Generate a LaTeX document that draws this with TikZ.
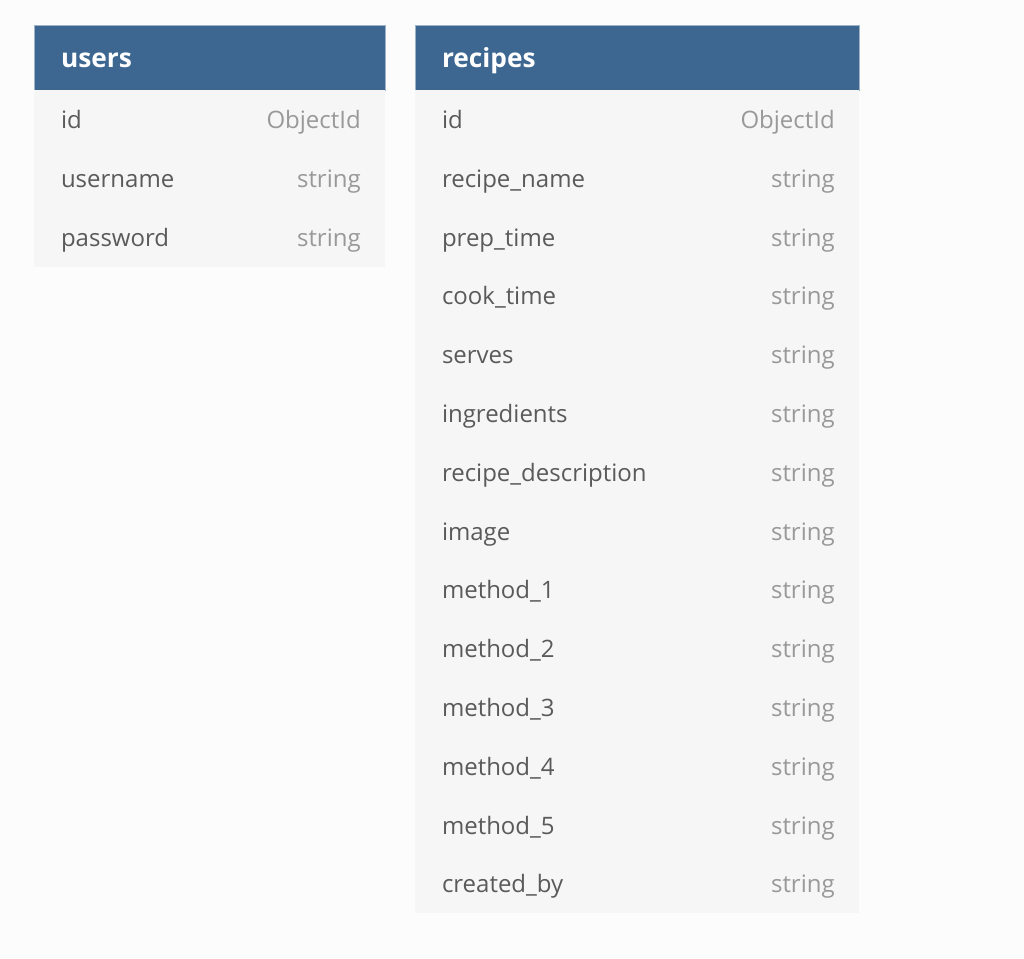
\documentclass[tikz,border=0pt]{standalone}
\usepackage{fontspec}
\setmainfont{Open Sans}
\usetikzlibrary{positioning}

\definecolor{hdrblue}{HTML}{3D6790}
\definecolor{hdrline}{HTML}{9DB3C8}
\definecolor{rowfill}{HTML}{F6F6F6}
\definecolor{pagebg}{HTML}{FCFCFC}
\definecolor{fieldtxt}{HTML}{5A5A5A}
\definecolor{typetxt}{HTML}{999999}

\begin{document}
\begin{tikzpicture}[
  x=0.75pt,
  y=-0.75pt,
  node distance=0pt,
  header/.style={
    draw=hdrline,
    line width=0.6pt,
    fill=hdrblue,
    text=white,
    font=\fontsize{19.7}{22}\selectfont\bfseries,
    anchor=north west,
    align=left,
    inner xsep=20.25pt,
    outer sep=0pt,
    text height=18.5pt,
    text depth=4pt,
    minimum height=48.5pt
  },
  field/.style={
    fill=rowfill,
    text=fieldtxt,
    font=\fontsize{18}{22}\selectfont,
    align=left,
    inner xsep=20.25pt,
    outer sep=0pt,
    text height=17.5pt,
    text depth=4pt,
    minimum height=44.1pt
  },
  ufield/.style={field, text width=222.75pt},
  rfield/.style={field, text width=292.5pt},
  ftype/.style={
    text=typetxt,
    font=\fontsize{18}{22}\selectfont,
    inner sep=0pt,
    text height=17.5pt,
    text depth=4pt
  }
]

\fill[pagebg] (0,0) rectangle (1024,958);

% users
\node[header, text width=222.75pt] (users) at (34,25.5) {users};
\node[ufield, below=of users] (u1) {id};
\node[ufield, below=of u1] (u2) {username};
\node[ufield, below=of u2] (u3) {password};
\node[ftype, left=18pt of u1.east] (u1t) {ObjectId};
\node[ftype, left=18pt of u2.east] (u2t) {string};
\node[ftype, left=18pt of u3.east] (u3t) {string};

% recipes
\node[header, text width=292.5pt] (recipes) at (415,25.5) {recipes};
\node[rfield, below=of recipes] (r1) {id};
\node[rfield, below=of r1] (r2) {recipe\_name};
\node[rfield, below=of r2] (r3) {prep\_time};
\node[rfield, below=of r3] (r4) {cook\_time};
\node[rfield, below=of r4] (r5) {serves};
\node[rfield, below=of r5] (r6) {ingredients};
\node[rfield, below=of r6] (r7) {recipe\_description};
\node[rfield, below=of r7] (r8) {image};
\node[rfield, below=of r8] (r9) {method\_1};
\node[rfield, below=of r9] (r10) {method\_2};
\node[rfield, below=of r10] (r11) {method\_3};
\node[rfield, below=of r11] (r12) {method\_4};
\node[rfield, below=of r12] (r13) {method\_5};
\node[rfield, below=of r13] (r14) {created\_by};
\node[ftype, left=18pt of r1.east] (r1t) {ObjectId};
\node[ftype, left=18pt of r2.east] (r2t) {string};
\node[ftype, left=18pt of r3.east] (r3t) {string};
\node[ftype, left=18pt of r4.east] (r4t) {string};
\node[ftype, left=18pt of r5.east] (r5t) {string};
\node[ftype, left=18pt of r6.east] (r6t) {string};
\node[ftype, left=18pt of r7.east] (r7t) {string};
\node[ftype, left=18pt of r8.east] (r8t) {string};
\node[ftype, left=18pt of r9.east] (r9t) {string};
\node[ftype, left=18pt of r10.east] (r10t) {string};
\node[ftype, left=18pt of r11.east] (r11t) {string};
\node[ftype, left=18pt of r12.east] (r12t) {string};
\node[ftype, left=18pt of r13.east] (r13t) {string};
\node[ftype, left=18pt of r14.east] (r14t) {string};

\end{tikzpicture}
\end{document}
